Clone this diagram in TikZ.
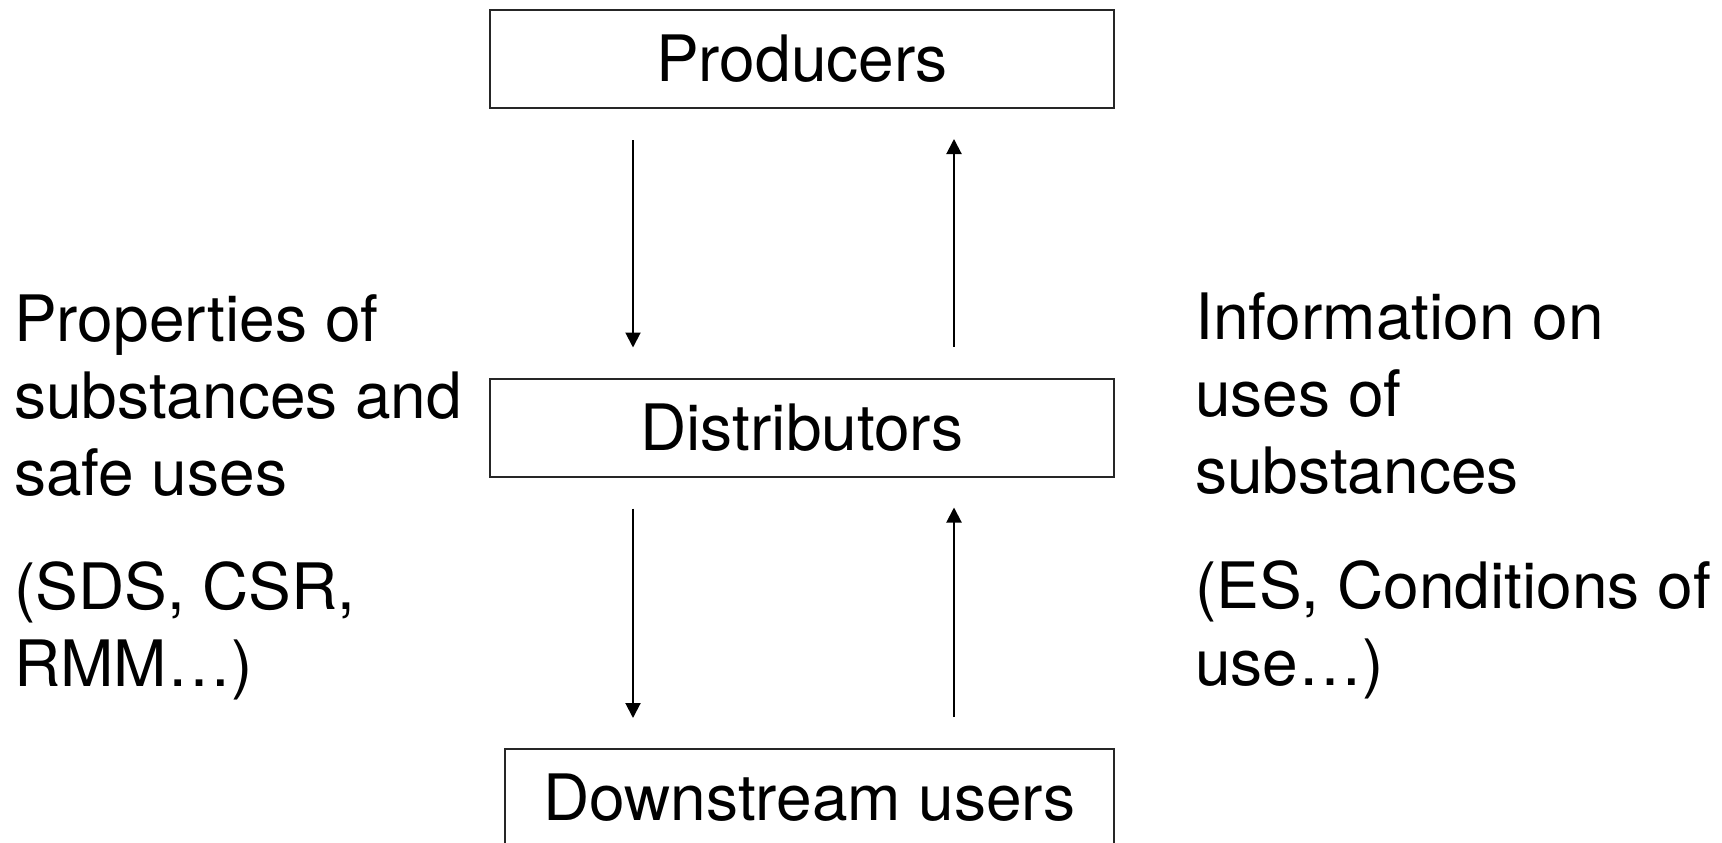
\documentclass[tikz,border=0pt]{standalone}
\usepackage{fontspec}
\setmainfont{TeX Gyre Heros}
\usetikzlibrary{arrows.meta}

\begin{document}
\begin{tikzpicture}[x=1pt,y=-1pt,
  actor/.style={draw=black!85, line width=2pt, inner sep=0pt,
    minimum height=98pt, font=\fontsize{64}{77}\selectfont},
  note/.style={anchor=base west, align=left, inner sep=0pt,
    font=\fontsize{64}{77}\selectfont},
  flow/.style={line width=2pt, -{Triangle[width=15pt,length=15pt]},
    shorten <=31pt, shorten >=30pt}]
  \useasboundingbox (0,0) rectangle (1722,843);

  % the three parties of the supply chain
  \node[actor, minimum width=624pt] (prod) at (802,59) {Producers};
  \node[actor, minimum width=624pt] (dist) at (802,427.5) {Distributors};
  \node[actor, minimum width=609pt] (down) at (809.5,798) {Downstream users};

  % columns of the downward and upward flows
  \coordinate (dn) at (633,0);
  \coordinate (up) at (954,0);

  \draw[flow] (prod.south -| dn) -- (dist.north -| dn);
  \draw[flow] (dist.north -| up) -- (prod.south -| up);
  \draw[flow] (dist.south -| dn) -- (down.north -| dn);
  \draw[flow] (down.north -| up) -- (dist.south -| up);

  % what travels down the chain (base anchor = last line)
  \node[note] (downinfo) at (14,495) {Properties of\\substances and\\safe uses};
  \node[note] (downex) at (14,686) {(SDS, CSR,\\RMM…)};

  % what travels up the chain
  \node[note] (upinfo) at (1195,493) {Information on\\uses of\\substances};
  \node[note] (upex) at (1195,685) {(ES, Conditions of\\use…)};
\end{tikzpicture}
\end{document}
